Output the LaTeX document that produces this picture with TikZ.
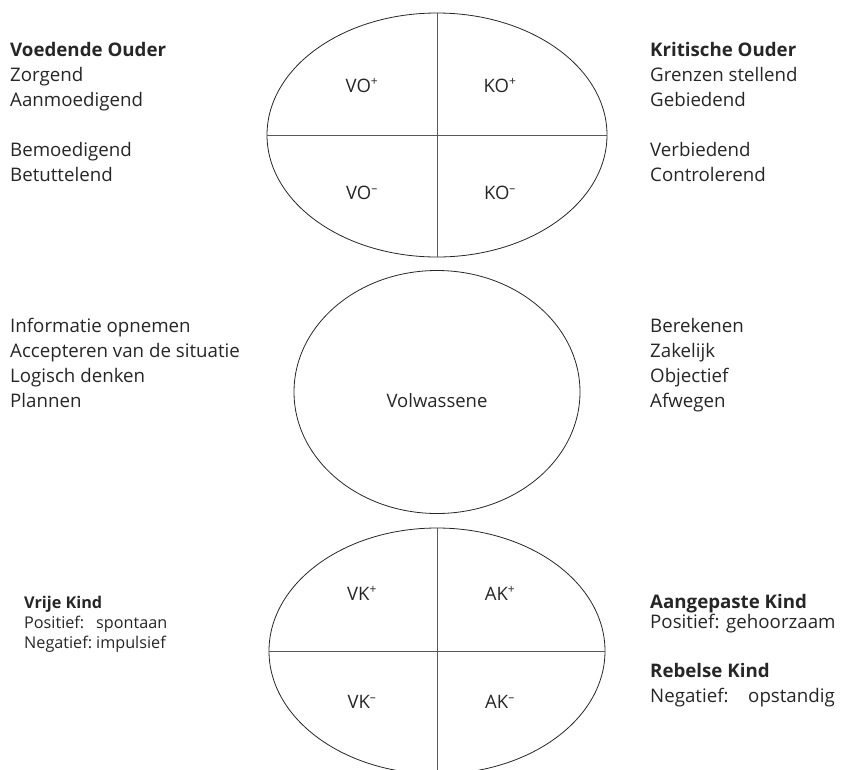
\documentclass[tikz,border=0pt]{standalone}
\usepackage{fontspec}
\setmainfont{Open Sans}
\usetikzlibrary{shapes.geometric}
\tikzset{
  ego/.style={ellipse, draw=black!85, line width=0.8pt, inner sep=0pt, outer sep=0pt},
  divider/.style={draw=black!65, line width=0.9pt},
  txt/.style={anchor=base west, inner sep=0pt, font=\fontsize{18.7}{25}\selectfont, text=black!85},
  ktxt/.style={txt, font=\fontsize{16.2}{20}\selectfont},
  lbl/.style={anchor=base, inner sep=0pt, font=\fontsize{18.5}{25}\selectfont, text=black!85},
}
\newcommand{\sps}[1]{\textsuperscript{\fontsize{12}{12}\selectfont#1}}
\begin{document}
\begin{tikzpicture}[x=1pt, y=-1pt]
\useasboundingbox (0,0) rectangle (862,769);
\clip (0,0) rectangle (862,769);

% Ouder
\node[ego, minimum width=340pt, minimum height=244pt] (ouder) at (437,135) {};
\draw[divider] (ouder.north) -- (ouder.south);
\draw[divider] (ouder.west) -- (ouder.east);
\node[lbl] (vop) at (362,92) {VO\sps{+}};
\node[lbl] (kop) at (500,92) {KO\sps{+}};
\node[lbl] (vom) at (362,199) {VO\sps{\textendash}};
\node[lbl] (kom) at (500,199) {KO\sps{\textendash}};

% Volwassene
\node[ego, minimum width=286pt, minimum height=243pt] (volw) at (437,392) {};
\node[lbl] (volwl) at (437,407) {Volwassene};

% Kind
\node[ego, minimum width=336pt, minimum height=246pt] (kind) at (437,651) {};
\draw[divider] (kind.north) -- (kind.south);
\draw[divider] (kind.west) -- (kind.east);
\node[lbl] (vkp) at (362,600) {VK\sps{+}};
\node[lbl] (akp) at (500,600) {AK\sps{+}};
\node[lbl] (vkm) at (362,708) {VK\sps{\textendash}};
\node[lbl] (akm) at (500,708) {AK\sps{\textendash}};

% Voedende Ouder
\node[txt] (vo1) at (10,56) {\textbf{Voedende Ouder}};
\node[txt] (vo2) at (10,81) {Zorgend};
\node[txt] (vo3) at (10,106) {Aanmoedigend};
\node[txt] (vo4) at (10,156) {Bemoedigend};
\node[txt] (vo5) at (10,181) {Betuttelend};

% Kritische Ouder
\node[txt] (ko1) at (650,56) {\textbf{Kritische Ouder}};
\node[txt] (ko2) at (650,81) {Grenzen stellend};
\node[txt] (ko3) at (650,106) {Gebiedend};
\node[txt] (ko4) at (650,156) {Verbiedend};
\node[txt] (ko5) at (650,181) {Controlerend};

% Volwassene links
\node[txt] (vw1) at (10,332) {Informatie opnemen};
\node[txt] (vw2) at (10,357) {Accepteren van de situatie};
\node[txt] (vw3) at (10,382) {Logisch denken};
\node[txt] (vw4) at (10,407) {Plannen};

% Volwassene rechts
\node[txt] (vr1) at (650,332) {Berekenen};
\node[txt] (vr2) at (650,357) {Zakelijk};
\node[txt] (vr3) at (650,382) {Objectief};
\node[txt] (vr4) at (650,407) {Afwegen};

% Vrije Kind
\node[ktxt] (vk1) at (24,608) {\textbf{Vrije Kind}};
\node[ktxt] (vk2) at (24,628) {Positief:};
\node[ktxt] (vk3) at (96,628) {spontaan};
\node[ktxt] (vk4) at (24,648) {Negatief:};
\node[ktxt] (vk5) at (96,648) {impulsief};

% Aangepaste / Rebelse Kind
\node[txt] (ak1) at (650,608) {\textbf{Aangepaste Kind}};
\node[txt] (ak2) at (650,628) {Positief:};
\node[txt] (ak3) at (726,628) {gehoorzaam};
\node[txt] (rk1) at (650,677) {\textbf{Rebelse Kind}};
\node[txt] (rk2) at (650,702) {Negatief:};
\node[txt] (rk3) at (748,702) {opstandig};
\end{tikzpicture}
\end{document}
